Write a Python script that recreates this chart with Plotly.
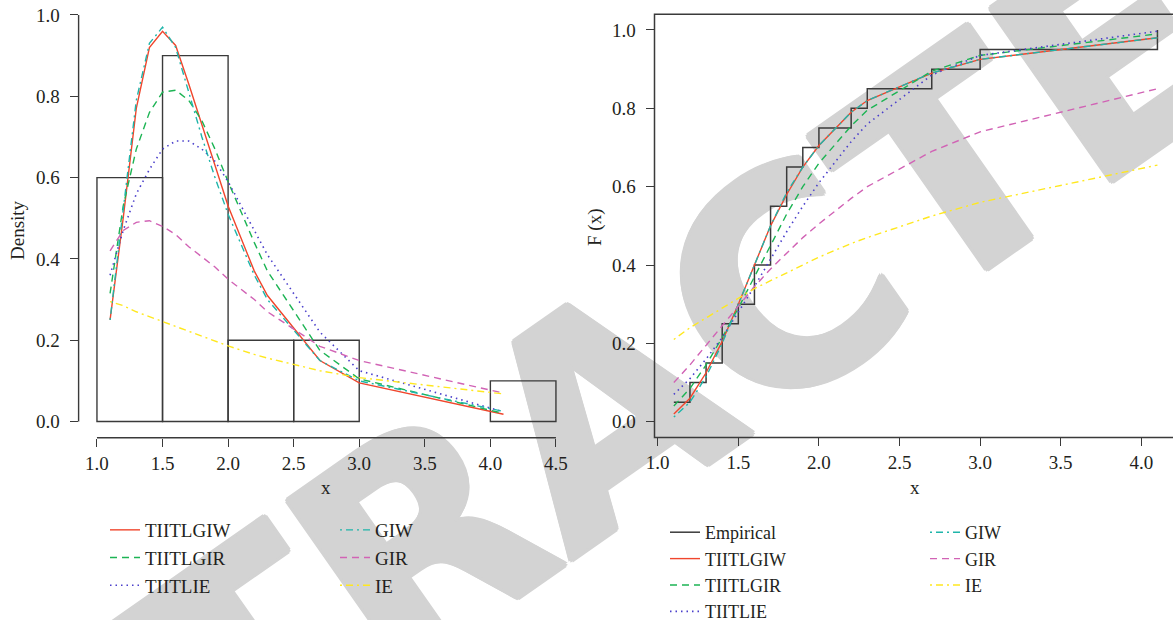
import plotly.graph_objects as go

# ---------------- data ----------------
x_knots = [1.1, 1.2, 1.3, 1.4, 1.5, 1.6, 1.7, 1.8, 1.9, 2.0, 2.2, 2.3, 2.7, 3.0, 4.1]

hist_edges = [1.0, 1.5, 2.0, 2.5, 3.0, 3.5, 4.0, 4.5]
hist_density = [0.6, 0.9, 0.2, 0.2, 0.0, 0.0, 0.1]

pdf_TIITLGIW = [0.25, 0.50, 0.77, 0.92, 0.96, 0.925, 0.83, 0.73, 0.63, 0.53, 0.37, 0.31, 0.15, 0.095, 0.018]
pdf_TIITLGIR = [0.315, 0.53, 0.67, 0.76, 0.81, 0.815, 0.79, 0.74, 0.67, 0.59, 0.44, 0.37, 0.175, 0.105, 0.02]
pdf_TIITLIE = [0.36, 0.47, 0.56, 0.62, 0.67, 0.69, 0.69, 0.67, 0.64, 0.59, 0.47, 0.41, 0.22, 0.125, 0.024]
pdf_GIW = [0.25, 0.52, 0.79, 0.93, 0.97, 0.92, 0.81, 0.70, 0.60, 0.51, 0.36, 0.30, 0.15, 0.10, 0.025]
pdf_GIR = [0.42, 0.47, 0.49, 0.494, 0.48, 0.46, 0.43, 0.405, 0.38, 0.35, 0.30, 0.27, 0.185, 0.15, 0.07]
pdf_IE = [0.295, 0.285, 0.27, 0.258, 0.246, 0.234, 0.222, 0.21, 0.198, 0.186, 0.165, 0.156, 0.125, 0.108, 0.068]

ecdf_empirical = [0.05, 0.10, 0.15, 0.25, 0.30, 0.40, 0.55, 0.65, 0.70, 0.75, 0.80, 0.85, 0.90, 0.95, 1.00]
cdf_TIITLGIW = [0.02, 0.06, 0.125, 0.205, 0.30, 0.40, 0.50, 0.58, 0.65, 0.705, 0.79, 0.82, 0.89, 0.925, 0.98]
cdf_TIITLGIR = [0.04, 0.085, 0.145, 0.215, 0.29, 0.37, 0.45, 0.53, 0.60, 0.66, 0.755, 0.795, 0.895, 0.935, 0.99]
cdf_TIITLIE = [0.07, 0.11, 0.16, 0.215, 0.28, 0.345, 0.415, 0.485, 0.55, 0.61, 0.715, 0.76, 0.885, 0.935, 0.997]
cdf_GIW = [0.012, 0.05, 0.115, 0.20, 0.30, 0.40, 0.50, 0.585, 0.65, 0.705, 0.79, 0.82, 0.89, 0.925, 0.98]
cdf_GIR = [0.10, 0.145, 0.195, 0.245, 0.295, 0.345, 0.39, 0.43, 0.47, 0.505, 0.57, 0.60, 0.69, 0.74, 0.85]
cdf_IE = [0.21, 0.24, 0.265, 0.29, 0.315, 0.34, 0.36, 0.38, 0.40, 0.42, 0.455, 0.47, 0.525, 0.56, 0.655]

left_xticks = [1.0, 1.5, 2.0, 2.5, 3.0, 3.5, 4.0, 4.5]
right_xticks = [1.0, 1.5, 2.0, 2.5, 3.0, 3.5, 4.0]
yticks = [0.0, 0.2, 0.4, 0.6, 0.8, 1.0]

# ---------------- styles ----------------
W, H = 1173, 620
SERIF = "Liberation Serif"
TXT = "#231f20"
AX = "#3a3a3a"
WM = "#d3d3d3"

models = [
    ("TIITLGIW", "#F0462D", "solid", 1.4, "legend", "legend3"),
    ("TIITLGIR", "#1DB454", "7px,5px", 1.4, "legend", "legend3"),
    ("TIITLIE", "#4A3FCB", "1.5px,4px", 1.6, "legend", "legend3"),
    ("GIW", "#1FB5AA", "2px,4px,7px,4px", 1.4, "legend2", "legend4"),
    ("GIR", "#D163B5", "7px,5px", 1.4, "legend2", "legend4"),
    ("IE", "#FFE81F", "2px,4px,7px,4px", 1.4, "legend2", "legend4"),
]
pdfs = {"TIITLGIW": pdf_TIITLGIW, "TIITLGIR": pdf_TIITLGIR, "TIITLIE": pdf_TIITLIE,
        "GIW": pdf_GIW, "GIR": pdf_GIR, "IE": pdf_IE}
cdfs = {"TIITLGIW": cdf_TIITLGIW, "TIITLGIR": cdf_TIITLGIR, "TIITLIE": cdf_TIITLIE,
        "GIW": cdf_GIW, "GIR": cdf_GIR, "IE": cdf_IE}

fig = go.Figure()

# histogram (density)
mids = [(a + b) / 2 for a, b in zip(hist_edges[:-1], hist_edges[1:])]
widths = [b - a for a, b in zip(hist_edges[:-1], hist_edges[1:])]
nz = [i for i, d in enumerate(hist_density) if d > 0]
fig.add_trace(go.Bar(
    x=[mids[i] for i in nz], y=[hist_density[i] for i in nz], width=[widths[i] for i in nz],
    marker=dict(color="rgba(0,0,0,0)", line=dict(color=AX, width=1.4)),
    showlegend=False, xaxis="x", yaxis="y", hoverinfo="skip"))

for name, col, dash, lw, lg_left, lg_right in models:
    fig.add_trace(go.Scatter(x=x_knots, y=pdfs[name], mode="lines", name=name,
                             line=dict(color=col, dash=dash, width=lw),
                             xaxis="x", yaxis="y", legend=lg_left))

# right panel
fig.add_trace(go.Scatter(x=x_knots, y=ecdf_empirical, mode="lines", name="Empirical",
                         line=dict(color=AX, width=1.5, shape="hv"),
                         xaxis="x2", yaxis="y2", legend="legend3"))
for name, col, dash, lw, lg_left, lg_right in models:
    fig.add_trace(go.Scatter(x=x_knots, y=cdfs[name], mode="lines", name=name,
                             line=dict(color=col, dash=dash, width=lw),
                             xaxis="x2", yaxis="y2", legend=lg_right))

tickfont = dict(family=SERIF, size=19, color=TXT)
axcommon = dict(showgrid=False, zeroline=False, showline=False, ticks="outside",
                ticklen=8, tickwidth=1.3, tickcolor=AX, tickfont=tickfont, automargin=False)

def px_x(p):
    return p / W

def px_y(p):
    return 1 - p / H

fig.update_layout(
    width=W, height=H,
    margin=dict(l=0, r=0, t=0, b=0, pad=0, autoexpand=False),
    paper_bgcolor="white", plot_bgcolor="rgba(0,0,0,0)",
    font=dict(family=SERIF, color=TXT, size=19),
    xaxis=dict(domain=[px_x(78.6), px_x(574.3)], range=[0.86, 4.64], anchor="y",
               tickvals=left_xticks, ticktext=[f"{v:.1f}" for v in left_xticks],
               ticklabelstandoff=0, **axcommon),
    yaxis=dict(domain=[px_y(437.8), 1], range=[-0.04, 1.0368], anchor="x",
               tickvals=yticks, ticktext=[f"{v:.1f}" for v in yticks],
               ticklabelstandoff=6, **axcommon),
    xaxis2=dict(domain=[px_x(654.5), 1], range=[0.98, 4.1965], anchor="y2",
                tickvals=right_xticks, ticktext=[f"{v:.1f}" for v in right_xticks],
                ticklabelstandoff=0, **axcommon),
    yaxis2=dict(domain=[px_y(437.4), px_y(14.3)], range=[-0.04, 1.04], anchor="x2",
                tickvals=yticks, ticktext=[f"{v:.1f}" for v in yticks],
                ticklabelstandoff=6, **axcommon),
)

legend_common = dict(bgcolor="rgba(0,0,0,0)", borderwidth=0, orientation="v",
                     xanchor="left", yanchor="top",
                     itemclick=False, itemdoubleclick=False)
lfont_left = dict(family=SERIF, size=19, color=TXT)
lfont_right = dict(family=SERIF, size=18, color=TXT)
fig.update_layout(
    legend=dict(x=px_x(105), y=px_y(511), font=lfont_left, **legend_common),
    legend2=dict(x=px_x(335), y=px_y(511), font=lfont_left, **legend_common),
    legend3=dict(x=px_x(665), y=px_y(514), font=lfont_right, **legend_common),
    legend4=dict(x=px_x(925), y=px_y(514), font=lfont_right, **legend_common),
)

shadow = ", ".join(f"{dx}px {dy}px 0 {WM}" for dx, dy in
                   [(3, 0), (-3, 0), (0, 3), (0, -3), (2, 2), (-2, -2), (2, -2), (-2, 2)])
shapes = [
    # watermark
    dict(type="rect", xref="paper", yref="paper", x0=px_x(594), x1=px_x(596), y0=px_y(396), y1=px_y(394),
         line=dict(width=0), fillcolor="rgba(0,0,0,0)", layer="below",
         label=dict(text="RETRACTED", textangle=-35, textposition="middle center",
                    font=dict(family="DejaVu Sans", size=290, color=WM, weight="bold",
                              shadow=shadow))),
    # left x axis line
    dict(type="line", xref="x", yref="y domain", x0=left_xticks[0], x1=left_xticks[-1], y0=0, y1=0,
         line=dict(color=AX, width=1.4)),
    # left y axis line
    dict(type="line", xref="x domain", yref="y", x0=0, x1=0, y0=yticks[0], y1=yticks[-1],
         line=dict(color=AX, width=1.4)),
    # right box
    dict(type="rect", xref="x2 domain", yref="y2 domain", x0=0, x1=1.05, y0=0, y1=1,
         line=dict(color=AX, width=1.5), fillcolor="rgba(0,0,0,0)"),
]
fig.update_layout(shapes=shapes)

ann = dict(xref="paper", yref="paper", showarrow=False, xanchor="center", yanchor="middle",
           font=dict(family=SERIF, size=19, color=TXT))
fig.update_layout(annotations=[
    dict(text="Density", x=px_x(17), y=px_y(230), textangle=-90, **ann),
    dict(text="x", x=px_x(326), y=px_y(487), **ann),
    dict(text="F (x)", x=px_x(595), y=px_y(228), textangle=-90, **ann),
    dict(text="x", x=px_x(915), y=px_y(487), **ann),
])

fig.write_html("out.html")
